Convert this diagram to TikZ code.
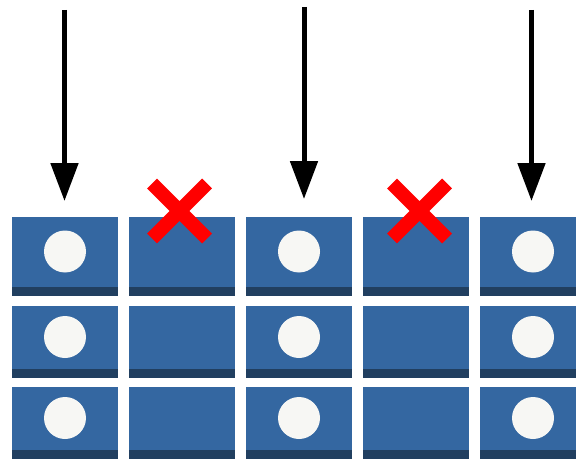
\documentclass[tikz,border=0pt]{standalone}
\usepackage{tikz}
\usetikzlibrary{arrows.meta,positioning,shapes.misc}
\definecolor{slotblue}{RGB}{52,103,161}
\definecolor{slotband}{RGB}{33,63,96}
\definecolor{dotwhite}{RGB}{247,247,244}
\begin{document}
\begin{tikzpicture}[
  x=1pt, y=-1pt,
  cell/.style={fill=slotblue, inner sep=0pt, outer sep=0pt,
               minimum width=106pt, minimum height=72pt,
               path picture={\fill[slotband] (path picture bounding box.south west)
                 rectangle ([yshift=9.5pt]path picture bounding box.south east);}},
  tall/.style={minimum height=79pt},
  dot/.style={circle, fill=dotwhite, inner sep=0pt, minimum size=42pt},
  nope/.style={cross out, draw=red, line width=14pt, inner sep=0pt,
               outer sep=0pt, minimum size=55pt},
  arrow/.style={-{Triangle[length=38pt,width=27pt]}, line width=5pt,
                shorten >=16pt}
]
\useasboundingbox (0,0) rectangle (576,460);
\clip (0,0) rectangle (576,460);
\node[cell, tall] (c11) at (65,256.5) {};
\node[cell, tall, right=11pt of c11] (c12) {};
\node[cell, tall, right=11pt of c12] (c13) {};
\node[cell, tall, right=11pt of c13] (c14) {};
\node[cell, tall, right=11pt of c14] (c15) {};
\node[cell, below=10pt of c11] (c21) {};
\node[cell, below=10pt of c12] (c22) {};
\node[cell, below=10pt of c13] (c23) {};
\node[cell, below=10pt of c14] (c24) {};
\node[cell, below=10pt of c15] (c25) {};
\node[cell, below=9pt of c21] (c31) {};
\node[cell, below=9pt of c22] (c32) {};
\node[cell, below=9pt of c23] (c33) {};
\node[cell, below=9pt of c24] (c34) {};
\node[cell, below=9pt of c25] (c35) {};
\node[dot] (d11) at ([yshift=5pt]c11.center) {};
\node[dot] (d13) at ([yshift=5pt]c13.center) {};
\node[dot] (d15) at ([yshift=5pt]c15.center) {};
\node[dot] (d21) at ([yshift=5pt]c21.center) {};
\node[dot] (d23) at ([yshift=5pt]c23.center) {};
\node[dot] (d25) at ([yshift=5pt]c25.center) {};
\node[dot] (d31) at ([yshift=5pt]c31.center) {};
\node[dot] (d33) at ([yshift=5pt]c33.center) {};
\node[dot] (d35) at ([yshift=5pt]c35.center) {};
\node[nope] (x12) at ([xshift=-2.5pt,yshift=6pt]c12.north) {};
\node[nope] (x14) at ([xshift=3.5pt,yshift=6pt]c14.north) {};
\coordinate (t1) at (64.5,10);
\coordinate (t3) at (304,7);
\coordinate (t5) at (531.5,10);
\draw[arrow] (t1) -- (t1 |- c11.north);
\draw[arrow, shorten >=18pt] (t3) -- (t3 |- c13.north);
\draw[arrow] (t5) -- (t5 |- c15.north);
\end{tikzpicture}
\end{document}
